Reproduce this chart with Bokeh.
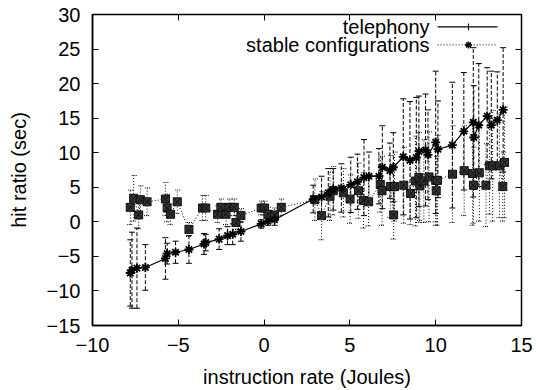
from bokeh.plotting import figure
from bokeh.models import ColumnDataSource, Whisker, TeeHead, LinearAxis, FixedTicker, Label
from bokeh.embed import file_html
from bokeh.resources import INLINE

# ---- data ----
tel_x = [-7.80, -7.70, -7.41, -6.92, -5.75, -5.65, -5.16, -4.38, -3.50, -3.40,
         -2.62, -2.13, -1.83, -1.35, -0.17, 0.22, 0.61, 2.86, 3.35, 3.74,
         4.03, 4.50, 5.05, 5.44, 5.82, 6.11, 6.69, 6.89, 7.33, 7.53,
         8.11, 8.50, 8.87, 9.02, 9.41, 9.55, 10.00, 10.13, 10.97, 11.64,
         12.19, 12.22, 12.51, 13.00, 13.24, 13.59, 13.93]
tel_y = [-7.4, -7.0, -6.7, -6.6, -5.3, -4.6, -4.4, -4.0, -3.2, -3.0,
         -2.5, -2.0, -1.8, -1.4, -0.3, 0.1, 0.3, 3.3, 3.6, 4.2,
         4.7, 4.9, 5.35, 5.8, 6.4, 6.6, 6.6, 7.9, 7.4, 7.9,
         9.4, 8.9, 9.3, 10.2, 10.4, 9.7, 11.5, 10.5, 11.1, 13.1,
         14.4, 12.2, 14.0, 15.3, 14.0, 14.7, 16.2]
tel_err = [4.8, 5.5, 5.8, 3.3, 3.0, 1.5, 1.6, 2.0, 1.5, 1.2,
           1.5, 1.3, 1.5, 1.4, 0.6, 0.6, 0.8, 2.0, 3.0, 3.5,
           3.0, 3.5, 4.0, 4.0, 5.5, 3.5, 4.0, 6.0, 4.0, 5.0,
           8.4, 8.5, 8.7, 8.0, 8.1, 6.5, 10.3, 7.0, 9.1, 8.5,
           10.8, 7.5, 8.9, 7.0, 7.8, 7.0, 9.0]

stab_x = [-7.80, -7.60, -7.31, -7.21, -6.82, -5.75, -5.65, -5.45, -5.06, -4.38,
          -3.59, -3.40, -2.71, -2.52, -2.22, -2.03, -1.74, -1.64, -1.35, -0.17,
          0.02, 0.22, 0.61, 1.00, 2.96, 3.35, 3.84, 4.03, 4.62, 5.01,
          5.50, 5.79, 6.09, 6.77, 6.87, 7.36, 7.55, 7.60, 8.14, 8.53,
          8.83, 9.02, 9.08, 9.31, 9.61, 10.00, 10.03, 10.10, 10.98, 11.66,
          12.15, 12.20, 12.54, 12.93, 13.13, 13.32, 13.71, 13.91, 14.01]
stab_y = [2.1, 3.4, 1.0, 3.2, 2.9, 3.3, 2.0, 1.1, 2.9, -1.1,
          2.0, 2.0, 1.1, 2.1, 1.1, 2.1, 2.1, -0.1, 0.9, 2.0,
          2.0, 1.1, 1.0, 2.1, 3.2, 0.9, 3.7, 4.5, 4.2, 3.3,
          4.5, 3.1, 2.9, 5.4, 4.5, 5.1, 1.0, 5.1, 5.3, 4.1,
          5.9, 6.4, 5.2, 5.9, 6.5, 6.0, 4.5, 6.0, 6.9, 7.4,
          7.0, 5.3, 7.1, 5.3, 8.1, 8.1, 8.1, 5.1, 8.6]
stab_err = [2.5, 3.3, 2.0, 2.0, 2.0, 2.4, 2.0, 1.5, 1.7, 1.0,
            1.8, 1.8, 1.2, 1.2, 1.5, 1.2, 1.2, 1.0, 1.0, 1.0,
            1.0, 1.0, 1.0, 1.2, 3.0, 3.5, 3.5, 3.5, 3.5, 3.5,
            4.0, 4.0, 3.5, 4.0, 5.0, 4.5, 3.5, 5.0, 5.5, 4.5,
            6.5, 6.5, 5.0, 6.0, 6.5, 6.0, 5.0, 6.5, 7.0, 6.5,
            7.5, 5.5, 7.0, 6.0, 7.0, 8.0, 7.5, 5.0, 8.0]

x_ticks = [-10, -5, 0, 5, 10, 15]
y_ticks = [-15, -10, -5, 0, 5, 10, 15, 20, 25, 30]
series_names = ["telephony", "stable configurations"]
x_label = "instruction rate (Joules)"
y_label = "hit ratio (sec)"

FONT = "Liberation Sans"
FS = "20px"

p = figure(width=536, height=390, x_range=(-10, 15), y_range=(-15, 30),
           output_backend="svg", toolbar_location=None,
           min_border_left=92, min_border_right=15, min_border_top=14, min_border_bottom=65)
p.xgrid.visible = False
p.ygrid.visible = False
p.outline_line_color = "black"
p.outline_line_width = 1.5
p.background_fill_color = "white"
p.border_fill_color = "white"

for ax, ticks in ((p.xaxis[0], x_ticks), (p.yaxis[0], y_ticks)):
    ax.ticker = FixedTicker(ticks=ticks)
    ax.major_tick_in = 6
    ax.major_tick_out = 0
    ax.minor_tick_line_color = None
    ax.axis_line_color = "black"
    ax.axis_line_width = 1.5
    ax.major_tick_line_color = "black"
    ax.major_label_text_font = FONT
    ax.major_label_text_font_size = FS
    ax.major_label_text_color = "black"
    ax.axis_label_text_font = FONT
    ax.axis_label_text_font_size = FS
    ax.axis_label_text_font_style = "normal"
    ax.axis_label_text_color = "black"

p.xaxis.axis_label = x_label
p.yaxis.axis_label = y_label
p.xaxis.major_label_standoff = 12
p.xaxis.axis_label_standoff = 11
p.yaxis.major_label_standoff = 12
p.yaxis.axis_label_standoff = 14

# mirror ticks on top and right (labels hidden)
top = LinearAxis(ticker=FixedTicker(ticks=x_ticks), major_tick_in=6, major_tick_out=0,
                 minor_tick_line_color=None, axis_line_color=None,
                 major_label_text_font_size="1px", major_label_text_color=None,
                 major_label_standoff=0)
right = LinearAxis(ticker=FixedTicker(ticks=y_ticks), major_tick_in=6, major_tick_out=0,
                   minor_tick_line_color=None, axis_line_color=None,
                   major_label_text_font_size="1px", major_label_text_color=None,
                   major_label_standoff=0)
p.add_layout(top, "above")
p.add_layout(right, "right")

tsrc = ColumnDataSource(dict(x=tel_x, y=tel_y,
                             lo=[a - b for a, b in zip(tel_y, tel_err)],
                             hi=[a + b for a, b in zip(tel_y, tel_err)]))
ssrc = ColumnDataSource(dict(x=stab_x, y=stab_y,
                             lo=[a - b for a, b in zip(stab_y, stab_err)],
                             hi=[a + b for a, b in zip(stab_y, stab_err)]))

sw = Whisker(source=ssrc, base="x", upper="hi", lower="lo",
             line_color="black", line_width=1, line_dash="1 2",
             upper_head=TeeHead(size=6, line_color="black", line_width=1, line_dash="1 1"),
             lower_head=TeeHead(size=6, line_color="black", line_width=1, line_dash="1 1"))
p.add_layout(sw)
tw = Whisker(source=tsrc, base="x", upper="hi", lower="lo",
             line_color="black", line_width=1, line_dash="4 2",
             upper_head=TeeHead(size=6, line_color="black", line_width=1),
             lower_head=TeeHead(size=6, line_color="black", line_width=1))
p.add_layout(tw)

p.line("x", "y", source=ssrc, line_color="black", line_width=1, line_dash="1 2")
p.scatter("x", "y", source=ssrc, marker="square_x", size=8,
          fill_color="#333333", line_color="#111111", line_width=1)

p.line("x", "y", source=tsrc, line_color="black", line_width=1.2)
p.scatter("x", "y", source=tsrc, marker="asterisk", size=9,
          line_color="black", line_width=1.8)

# ---- key (gnuplot style, top right) ----
key_text_x = 9.64
key_x0, key_x1, key_xm = 10.11, 13.60, 11.91
key_y = [28.2, 25.6]
for name, yy in zip(series_names, key_y):
    p.add_layout(Label(x=key_text_x, y=yy, text=name, text_align="right",
                       text_baseline="middle", text_font=FONT, text_font_size=FS,
                       text_color="black"))
p.segment(x0=[key_x0], y0=[key_y[0]], x1=[key_x1], y1=[key_y[0]],
          line_color="black", line_width=1.2)
p.segment(x0=[key_xm], y0=[key_y[0] - 0.5], x1=[key_xm], y1=[key_y[0] + 0.5],
          line_color="black", line_width=1)
p.segment(x0=[key_x0], y0=[key_y[1]], x1=[key_x1], y1=[key_y[1]],
          line_color="black", line_width=1, line_dash="1 2")
p.scatter(x=[key_xm], y=[key_y[1]], marker="asterisk", size=7,
          line_color="black", line_width=1.5)

open("out.html", "w").write(file_html(p, INLINE))
